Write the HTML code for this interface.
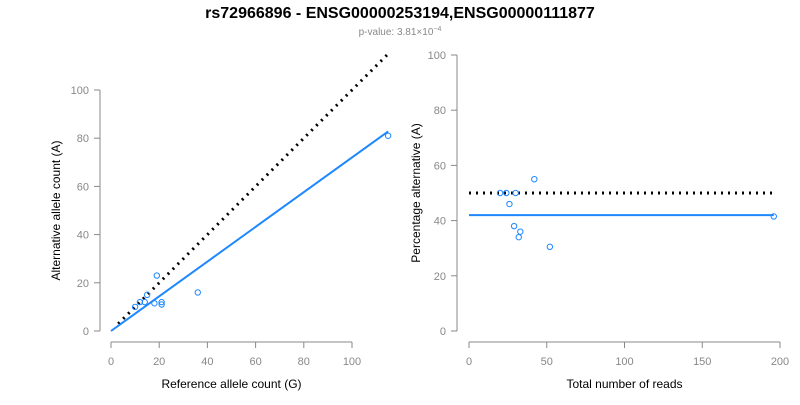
<!DOCTYPE html>
<html><head><meta charset="utf-8"><style>
body{margin:0;background:#fff;font-family:"Liberation Sans",Arial,sans-serif}
svg text{font-family:"Liberation Sans",Arial,sans-serif}
</style></head><body>
<svg id="c" width="800" height="400" xmlns="http://www.w3.org/2000/svg">
<text x="400" y="18" text-anchor="middle" font-size="16" font-weight="bold">rs72966896 - ENSG00000253194,ENSG00000111877</text>
<text x="400" y="35" text-anchor="middle" font-size="10" fill="#888">p-value: 3.81×10<tspan dy="-4" font-size="7">−4</tspan></text>
<g id="left"></g>
<g id="right"></g>
</svg>
<script>
const refCounts=[10,12,14,15,18,19,21,21,36,115];
const altCounts=[10,12,12,15,11.5,23,11,12,16,81];
const totalReads=[20,24,30,26,29,33,32,52,42,196];
const pctAlt=[50,50,50,46,38,36,34,30.5,55,41.5];
const leftXTicks=[0,20,40,60,80,100];
const leftYTicks=[0,20,40,60,80,100];
const rightXTicks=[0,50,100,150,200];
const rightYTicks=[0,20,40,60,80,100];
const fitSlope=0.72;
const fitPct=42;
const NS="http://www.w3.org/2000/svg";
function mk(p,t,a){const e=document.createElementNS(NS,t);for(const k in a)e.setAttribute(k,a[k]);p.appendChild(e);return e;}
const gray="#888",blue="#1e88ff";
// left
const L=document.getElementById('left');
const lx=v=>111+v*2.41, ly=v=>331-v*2.41;
let e=mk(L,'line',{x1:lx(0),x2:lx(100),y1:342,y2:342,stroke:gray});

e=mk(L,'line',{x1:100,x2:100,y1:ly(0),y2:ly(100),stroke:gray});

leftXTicks.forEach(v=>{mk(L,'line',{x1:lx(v),x2:lx(v),y1:342,y2:348,stroke:gray});
 const t=mk(L,'text',{x:lx(v),y:365,'text-anchor':'middle','font-size':11,fill:gray});t.textContent=v;
 });
leftYTicks.forEach(v=>{mk(L,'line',{x1:94,x2:100,y1:ly(v),y2:ly(v),stroke:gray});
 const t=mk(L,'text',{x:89,y:ly(v)+4,'text-anchor':'end','font-size':11,fill:gray});t.textContent=v;
 });
e=mk(L,'text',{x:lx(50),y:388,'text-anchor':'middle','font-size':12});e.textContent='Reference allele count (G)';

e=mk(L,'text',{x:60,y:ly(50),'text-anchor':'middle','font-size':12,transform:`rotate(-90 60 ${ly(50)})`});e.textContent='Alternative allele count (A)';

const xmax=Math.max(...refCounts);
e=mk(L,'line',{x1:lx(3),y1:ly(3),x2:lx(xmax),y2:ly(xmax),stroke:'#000','stroke-width':3,'stroke-dasharray':'2 5'});

e=mk(L,'line',{x1:lx(0),y1:ly(0),x2:lx(xmax),y2:ly(xmax*fitSlope),stroke:blue,'stroke-width':2});

refCounts.forEach((r,i)=>{const c=mk(L,'circle',{cx:lx(r),cy:ly(altCounts[i]),r:2.7,fill:'none',stroke:blue,'stroke-width':1});
 });
// right
const R=document.getElementById('right');
const rx=v=>469+v*1.555, ry=v=>331-v*2.76;
e=mk(R,'line',{x1:rx(0),x2:rx(200),y1:342,y2:342,stroke:gray});

e=mk(R,'line',{x1:457,x2:457,y1:ry(0),y2:ry(100),stroke:gray});

rightXTicks.forEach(v=>{mk(R,'line',{x1:rx(v),x2:rx(v),y1:342,y2:348,stroke:gray});
 const t=mk(R,'text',{x:rx(v),y:365,'text-anchor':'middle','font-size':11,fill:gray});t.textContent=v;
 });
rightYTicks.forEach(v=>{mk(R,'line',{x1:451,x2:457,y1:ry(v),y2:ry(v),stroke:gray});
 const t=mk(R,'text',{x:446,y:ry(v)+4,'text-anchor':'end','font-size':11,fill:gray});t.textContent=v;
 });
e=mk(R,'text',{x:rx(100),y:388,'text-anchor':'middle','font-size':12});e.textContent='Total number of reads';

e=mk(R,'text',{x:420,y:ry(50),'text-anchor':'middle','font-size':12,transform:`rotate(-90 420 ${ry(50)})`});e.textContent='Percentage alternative (A)';

const tmax=Math.max(...totalReads);
e=mk(R,'line',{x1:rx(0),y1:ry(50),x2:rx(tmax),y2:ry(50),stroke:'#000','stroke-width':3,'stroke-dasharray':'2 5'});

e=mk(R,'line',{x1:rx(0),y1:ry(fitPct),x2:rx(tmax),y2:ry(fitPct),stroke:blue,'stroke-width':2});

totalReads.forEach((t,i)=>{const c=mk(R,'circle',{cx:rx(t),cy:ry(pctAlt[i]),r:2.7,fill:'none',stroke:blue,'stroke-width':1});
 });
</script>
</body></html>
